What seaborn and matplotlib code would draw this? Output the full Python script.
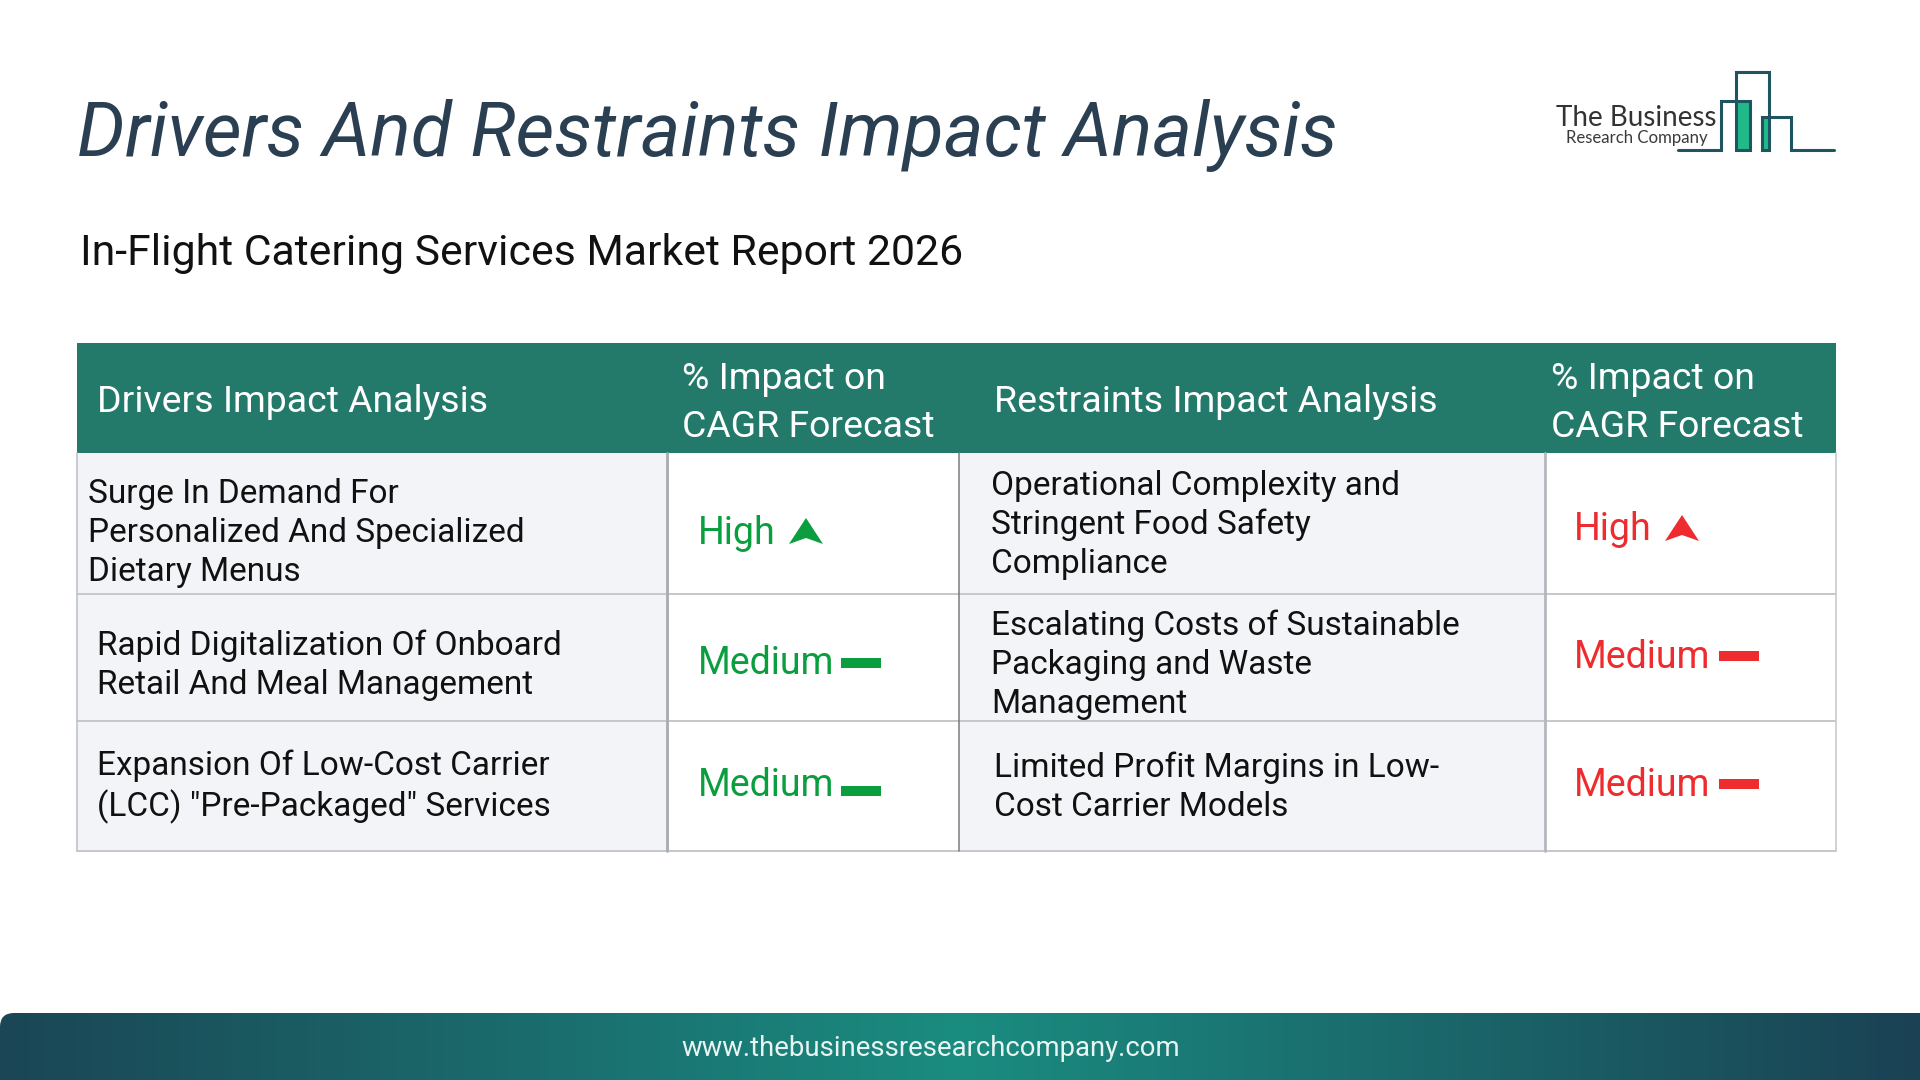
import numpy as np
import pandas as pd
import matplotlib.pyplot as plt
import seaborn as sns
from matplotlib.colors import LinearSegmentedColormap
from matplotlib.patches import FancyBboxPatch, Rectangle
from matplotlib.path import Path

# Textos de la tabla
title = 'Drivers And Restraints Impact Analysis'
subtitle = 'In-Flight Catering Services Market Report 2026'
headers = ['Drivers Impact Analysis', '% Impact on\nCAGR Forecast',
           'Restraints Impact Analysis', '% Impact on\nCAGR Forecast']
drivers = ['Surge In Demand For\nPersonalized And Specialized\nDietary Menus',
           'Rapid Digitalization Of Onboard\nRetail And Meal Management',
           'Expansion Of Low-Cost Carrier\n(LCC) "Pre-Packaged" Services']
restraints = ['Operational Complexity and\nStringent Food Safety\nCompliance',
              'Escalating Costs of Sustainable\nPackaging and Waste\nManagement',
              'Limited Profit Margins in Low-\nCost Carrier Models']
driver_impact = ['High', 'Medium', 'Medium']
restraint_impact = ['High', 'Medium', 'Medium']
website = 'www.thebusinessresearchcompany.com'

# Geometria en pixeles
col_edges = [77, 667, 959, 1545, 1836]
row_edges = [453, 594, 721, 851]
header_top = 343
driver_x = [88, 97, 97]
driver_y = [533, 665, 787]
restraint_x = [991, 991, 994]
restraint_y = [525, 665, 787]
driver_imp_y = [534, 664, 785]
restraint_imp_y = [530, 658, 786]

GREEN = '#0a9e3f'
RED = '#ee2b2f'
TEAL = '#247a6a'
CELL = '#f2f4f7'
FONT = 'Roboto'

sns.set_theme(style='white')
plt.rcParams['font.family'] = [FONT, 'DejaVu Sans']

fig = plt.figure(figsize=(19.2, 10.8), dpi=100)
ax = fig.add_axes([0, 0, 1, 1])
ax.set_xlim(0, 1920)
ax.set_ylim(1080, 0)
ax.axis('off')

# Titulos
ax.text(77, 135, title, fontsize=54.3, style='italic', color='#2a3f52', va='center')
ax.text(80, 254, subtitle, fontsize=30.8, color='#111111', va='center')

# Logo
logo_x = np.array([533, 662, 662, 750, 750, 708, 708, 806, 806, 785, 785, 873, 873, 1002]) / 3 + 1500
logo_y = np.array([330, 330, 182, 182, 330, 330, 95, 95, 330, 330, 232, 232, 330, 330]) / 3 + 40
ax.add_patch(Rectangle((1736, 101), 14, 49, color='#1fb98a', lw=0))
ax.add_patch(Rectangle((1762, 117), 7, 33, color='#1fb98a', lw=0))
ax.plot(logo_x, logo_y, color='#1f5560', lw=2.2, solid_joinstyle='miter')
ax.text(1636, 118, 'The Business', fontsize=20, family='Lato', color='#333333',
        ha='center', va='center')
ax.text(1637, 138, 'Research Company', fontsize=12.1, family='Lato', color='#3a3a3a',
        ha='center', va='center')

# Tabla: fondos
ax.add_patch(Rectangle((col_edges[0], header_top), col_edges[-1] - col_edges[0],
                       row_edges[0] - header_top, color=TEAL, lw=0, zorder=2))
for i in [0, 2]:
    ax.add_patch(Rectangle((col_edges[i], row_edges[0]), col_edges[i + 1] - col_edges[i],
                           row_edges[-1] - row_edges[0], color=CELL, lw=0, zorder=1))

# Lineas de la tabla
for y in row_edges[1:]:
    ax.plot([col_edges[0], col_edges[-1]], [y, y], color='#c4c8cb', lw=1.4, zorder=3)
for x, c, w in zip(col_edges, ['#c0c4c8', '#a8acb0', '#7a7d80', '#b4b8bc', '#c8ccd0'],
                   [1.2, 2, 1.1, 2, 1.2]):
    ax.plot([x, x], [row_edges[0], row_edges[-1]], color=c, lw=w, zorder=3)

# Encabezados
for x, y, label in zip([97, 682, 994, 1551], [402, 403, 402, 403], headers):
    ax.text(x, y, label, fontsize=26.9, color='white', va='center', linespacing=1.42, zorder=4)

# Celdas de texto
for x, y, label in zip(driver_x, driver_y, drivers):
    ax.text(x, y, label, fontsize=24, color='#111111', va='center', linespacing=1.27, zorder=4)
for x, y, label in zip(restraint_x, restraint_y, restraints):
    ax.text(x, y, label, fontsize=24, color='#111111', va='center', linespacing=1.27, zorder=4)

# Nivel de impacto
for x, ys, levels, colour in [(698, driver_imp_y, driver_impact, GREEN),
                              (1574, restraint_imp_y, restraint_impact, RED)]:
    for y, level in zip(ys, levels):
        ax.text(x, y, level, fontsize=27, color=colour, va='center', zorder=4)

marks = pd.DataFrame({
    'x': [806, 861, 861, 1682, 1739, 1739],
    'y': [531, 663, 791, 528, 656, 784],
    'level': driver_impact + restraint_impact,
    'side': ['driver'] * 3 + ['restraint'] * 3,
})
palette = {'driver': GREEN, 'restraint': RED}
arrow = Path([(0, 13), (17, -13), (0, -7), (-17, -13), (0, 13)], closed=True)
dash = Path([(-20, -5), (20, -5), (20, 5), (-20, 5), (-20, -5)], closed=True)
sns.scatterplot(data=marks[marks['level'] == 'High'], x='x', y='y', hue='side', palette=palette,
                marker=arrow, s=600, linewidth=0, legend=False, ax=ax, zorder=4)
sns.scatterplot(data=marks[marks['level'] == 'Medium'], x='x', y='y', hue='side', palette=palette,
                marker=dash, s=830, linewidth=0, legend=False, ax=ax, zorder=4)
ax.set_xlim(0, 1920)
ax.set_ylim(1080, 0)
ax.axis('off')

# Pie con degradado
footer_cmap = LinearSegmentedColormap.from_list('footer', ['#1b4655', '#1a8c80', '#1b4254'])
band = np.linspace(0, 1, 512).reshape(1, -1)
img = ax.imshow(band, cmap=footer_cmap, extent=[0, 1920, 1080, 1013], aspect='auto', zorder=1)
clip = FancyBboxPatch((0, 1013), 1960, 120, boxstyle='round,pad=0,rounding_size=14',
                      transform=ax.transData, fc='none', ec='none')
ax.add_patch(clip)
img.set_clip_path(clip)
ax.set_xlim(0, 1920)
ax.set_ylim(1080, 0)
ax.text(931, 1049, website, fontsize=19.8, color='#e8f4f2', ha='center', va='center', zorder=4)

fig.savefig('out.png', dpi=100)
